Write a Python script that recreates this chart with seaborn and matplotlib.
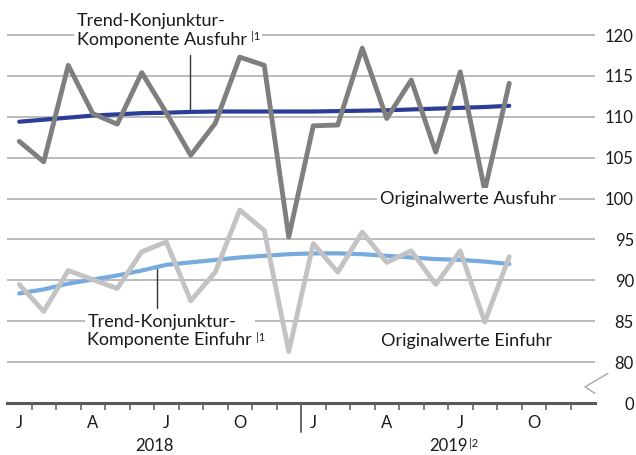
import numpy as np
import pandas as pd
import seaborn as sns
import matplotlib.pyplot as plt

# monthly index values, Jan 2018 .. Sep 2019
months = pd.date_range("2018-01-01", periods=21, freq="MS")
ausfuhr_orig = [107.0, 104.5, 116.3, 110.4, 109.1, 115.4, 110.5, 105.3, 109.2, 117.3, 116.3,
                95.3, 108.9, 109.0, 118.4, 109.8, 114.5, 105.7, 115.5, 101.0, 114.1]
ausfuhr_trend = [109.4, 109.65, 109.9, 110.15, 110.3, 110.45, 110.5, 110.6, 110.65, 110.65, 110.65,
                 110.65, 110.65, 110.7, 110.75, 110.8, 110.9, 111.0, 111.1, 111.2, 111.35]
einfuhr_orig = [89.5, 86.2, 91.2, 90.1, 89.0, 93.5, 94.7, 87.5, 91.0, 98.6, 96.1,
                81.3, 94.5, 91.0, 95.9, 92.2, 93.6, 89.5, 93.6, 84.9, 92.9]
einfuhr_trend = [88.4, 88.9, 89.6, 90.1, 90.6, 91.2, 91.9, 92.2, 92.5, 92.8, 93.0,
                 93.2, 93.3, 93.3, 93.2, 93.0, 92.8, 92.6, 92.5, 92.3, 92.0]

month_labels = ["J", "A", "J", "O", "J", "A", "J", "O"]
year_labels = ["2018", "2019"]
ytick_values = [75, 80, 85, 90, 95, 100, 105, 110, 115, 120]
ytick_labels = ["0", "80", "85", "90", "95", "100", "105", "110", "115", "120"]

df = pd.DataFrame({
    "pos": np.arange(len(months)) + 0.5,
    "Trend Einfuhr": einfuhr_trend,
    "Trend Ausfuhr": ausfuhr_trend,
    "Original Einfuhr": einfuhr_orig,
    "Original Ausfuhr": ausfuhr_orig,
})

styles = {
    "Trend Einfuhr": ("#76abdf", 3.0),
    "Trend Ausfuhr": ("#2b3d96", 3.0),
    "Original Einfuhr": ("#c3c3c3", 3.5),
    "Original Ausfuhr": ("#7f7f7f", 3.5),
}

sns.set_theme(style="white")
plt.rcParams["font.family"] = ["Lato", "DejaVu Sans"]
txt = "#1a1a1a"

fig = plt.figure(figsize=(6.36, 4.55), dpi=100)
ax = fig.add_axes([7 / 636, 52 / 455, 588 / 636, (403 - 18.7) / 455])

for y in ytick_values[1:]:
    ax.axhline(y, color="#a8a8a8", lw=1.1, zorder=1)

for i, (col, (c, lw)) in enumerate(styles.items()):
    sns.lineplot(data=df, x="pos", y=col, ax=ax, color=c, lw=lw, zorder=3 + i)

ax.set_xlim(0, 24)
ax.set_ylim(75, 122)
ax.set_xlabel("")
ax.set_ylabel("")

for s in ["top", "left", "right"]:
    ax.spines[s].set_visible(False)
ax.spines["bottom"].set_color("#5a5a5a")
ax.spines["bottom"].set_linewidth(2.2)
ax.spines["bottom"].set_zorder(10)

# month separators
sep = [m for m in range(1, 24) if m != 12]
ax.set_xticks(sep)
ax.set_xticklabels([])
ax.tick_params(axis="x", which="major", direction="out", length=5, width=1.1,
               color="#5a5a5a", bottom=True)
ax.set_xticks(np.arange(0, 24, 3) + 0.5, minor=True)
ax.set_xticklabels(month_labels, minor=True)
ax.tick_params(axis="x", which="minor", length=0, pad=9, labelsize=12, labelcolor=txt)
ax.plot([12, 12], [0, -0.075], transform=ax.get_xaxis_transform(), color="#5a5a5a",
        lw=1.3, clip_on=False)

ax.text(6, -0.112, year_labels[0], transform=ax.get_xaxis_transform(), ha="center",
        va="center", fontsize=12, color=txt)
t19 = ax.text(18, -0.112, year_labels[1], transform=ax.get_xaxis_transform(), ha="center",
              va="center", fontsize=12, color=txt)
ax.annotate("|2", xy=(1, 1), xycoords=t19, xytext=(1, 0), textcoords="offset points",
            ha="left", va="top", fontsize=8, color=txt)

# right axis labels
ax.yaxis.tick_right()
ax.set_yticks(ytick_values)
ax.set_yticklabels(ytick_labels)
ax.tick_params(axis="y", length=0, pad=28, labelsize=12, labelcolor=txt)
for lab in ax.get_yticklabels():
    lab.set_horizontalalignment("right")

# axis break mark
ax.plot([1.022, 0.983, 1.0], [0.077, 0.042, 0.025], transform=ax.transAxes,
        color="#a8a8a8", lw=1.0, clip_on=False)

box = dict(facecolor="white", edgecolor="none", pad=2)
sbox = dict(facecolor="white", edgecolor="none", pad=1)

t1 = ax.text(2.86, 120.6, "Trend-Konjunktur-\nKomponente Ausfuhr", ha="left", va="center",
             fontsize=13, color=txt, linespacing=1.25, bbox=box, zorder=20, clip_on=False)
ax.annotate("|1", xy=(1, 0.47), xycoords=t1, xytext=(3, 0), textcoords="offset points",
            ha="left", va="top", fontsize=8, color=txt, bbox=sbox, zorder=20)
ax.plot([7.47, 7.47], [117.6, 110.7], color="#333333", lw=1.0, zorder=2)

t2 = ax.text(3.28, 83.8, "Trend-Konjunktur-\nKomponente Einfuhr", ha="left", va="center",
             fontsize=13, color=txt, linespacing=1.2, bbox=box, zorder=20)
ax.annotate("|1", xy=(1, 0.47), xycoords=t2, xytext=(3, 0), textcoords="offset points",
            ha="left", va="top", fontsize=8, color=txt, bbox=sbox, zorder=20)
ax.plot([6.11, 6.11], [91.6, 86.6], color="#333333", lw=1.0, zorder=2)

ax.text(15.22, 100, "Originalwerte Ausfuhr", ha="left", va="center", fontsize=13,
        color=txt, bbox=box, zorder=20)
ax.text(15.25, 82.6, "Originalwerte Einfuhr", ha="left", va="center", fontsize=13,
        color=txt, bbox=box, zorder=20)

fig.savefig("out.png", dpi=100)
